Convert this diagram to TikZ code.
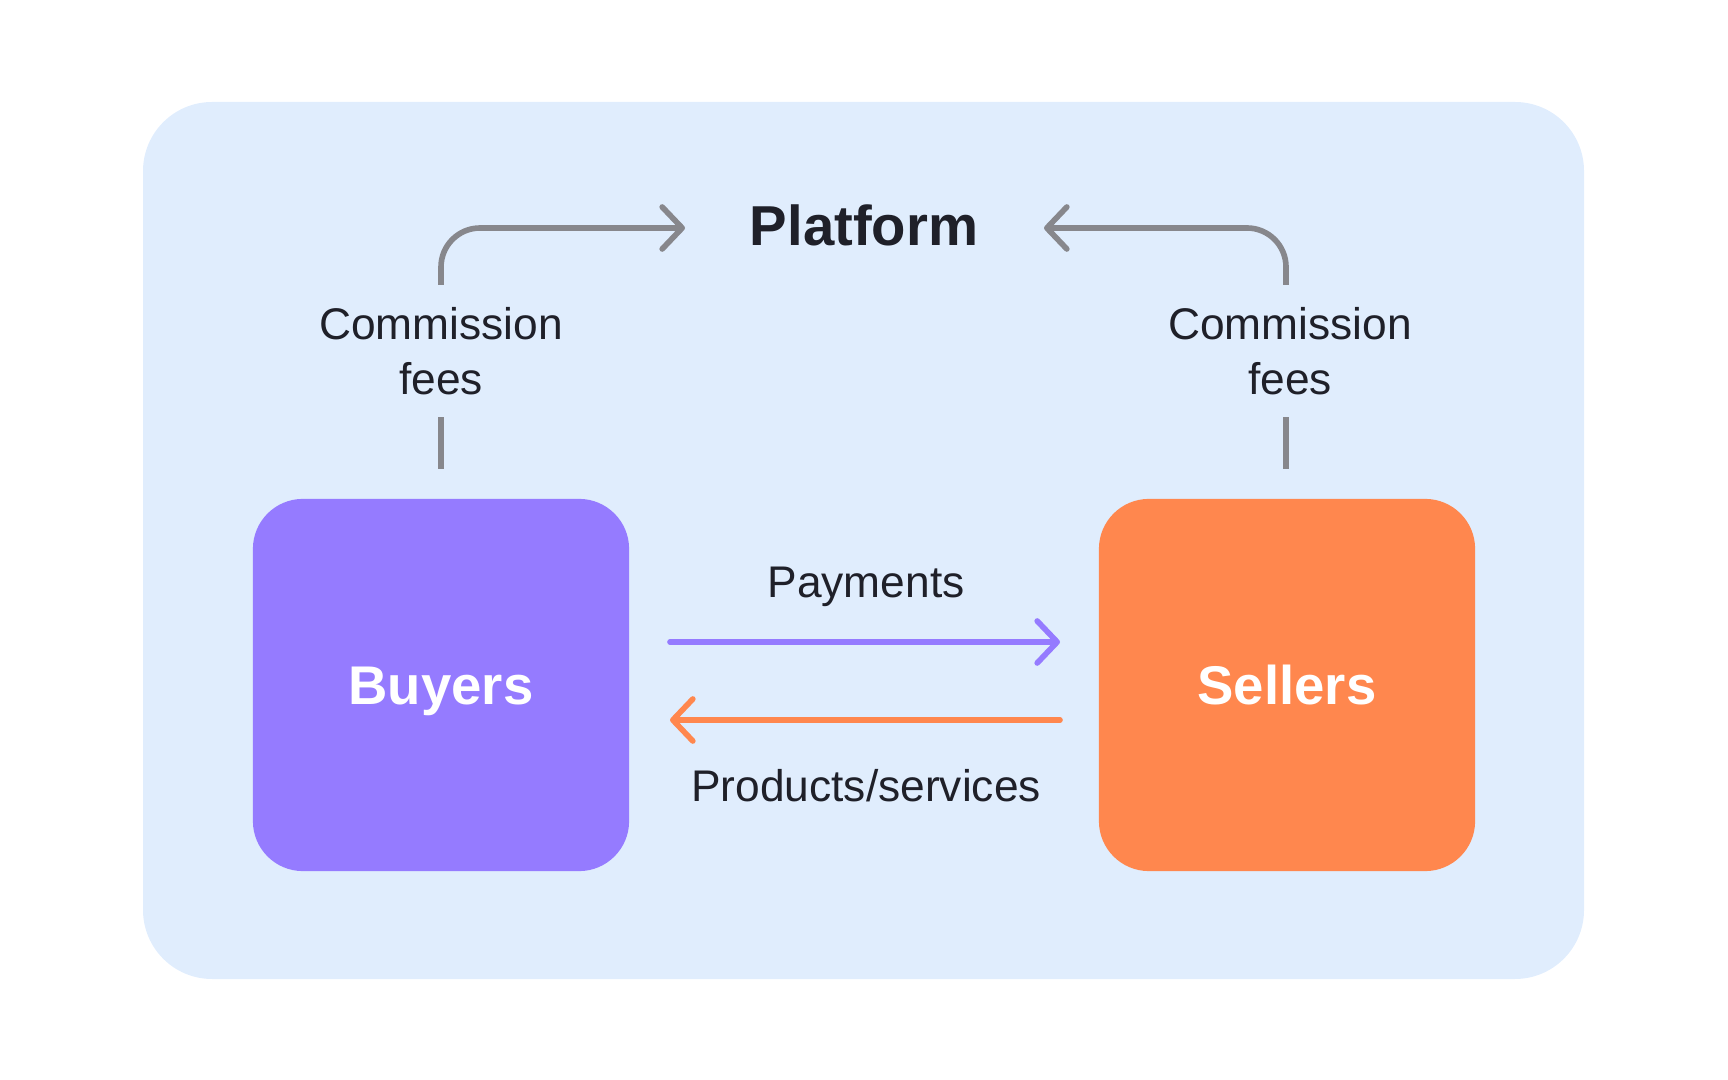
\documentclass[tikz,border=0pt]{standalone}
\usepackage{fontspec}
\setmainfont{Liberation Sans}
\usetikzlibrary{arrows.meta}
\definecolor{bgblue}{HTML}{E0EDFD}
\definecolor{buyc}{HTML}{957BFF}
\definecolor{sellc}{HTML}{FF874E}
\definecolor{grayc}{HTML}{87878C}
\definecolor{txtc}{HTML}{1F2029}
\tikzset{
  chev/.tip={Straight Barb[length=0.2cm,width=0.42cm,line width=1.6pt,line cap=round,line join=round]},
  party/.style={rounded corners=0.5cm, minimum width=3.76cm, minimum height=3.72cm, inner sep=0pt, text=white, font=\fontsize{15.5}{19}\selectfont\bfseries, text height=13.95pt, text depth=2.85pt},
  lbl/.style={text=txtc, font=\fontsize{12.6}{15}\selectfont, align=center, inner sep=0pt},
  conn/.style={line width=1.6pt, line cap=round, line join=round},
  feeconn/.style={conn, draw=grayc, line cap=butt},
}
\begin{document}
\begin{tikzpicture}[x=0.01cm,y=-0.01cm]
\useasboundingbox (0,0) rectangle (1728,1080);
\fill[bgblue, rounded corners=0.69cm] (143,102) rectangle (1584,979);
\node[party, fill=buyc] (buy) at (441,685) {Buyers};
\node[party, fill=sellc] (sell) at (1287,685) {Sellers};
\node[text=txtc, font=\fontsize{16}{20}\selectfont\bfseries, inner sep=0pt] (plat) at (864,225) {Platform};
\node[lbl] (lfee) at (441,351) {Commission\\[0.016cm]fees};
\node[lbl] (rfee) at (1290,351) {Commission\\[0.016cm]fees};
\node[lbl] (pay) at (866,587) {Payments};
\node[lbl] (prod) at (866,786) {Products/services};
% coordinates
\coordinate (lb) at (441,469);
\coordinate (lm) at (441,417);
\coordinate (lt) at (441,285);
\coordinate (la) at (685,228);
\coordinate (rb) at (1286,469);
\coordinate (rm) at (1286,417);
\coordinate (rt) at (1286,285);
\coordinate (ra) at (1044,228);
\coordinate (p1) at (670,642);
\coordinate (p2) at (1060,642);
\coordinate (s1) at (1060,720);
\coordinate (s2) at (670,720);
% fee connectors
\draw[feeconn] (lb) -- (lm);
\draw[feeconn, rounded corners=0.39cm, -{chev}] (lt) |- (la);
\draw[feeconn] (rb) -- (rm);
\draw[feeconn, rounded corners=0.39cm, -{chev}] (rt) |- (ra);
% flows
\draw[conn, draw=buyc, -{chev}] (p1) -- (p2);
\draw[conn, draw=sellc, -{chev}] (s1) -- (s2);
\end{tikzpicture}
\end{document}
